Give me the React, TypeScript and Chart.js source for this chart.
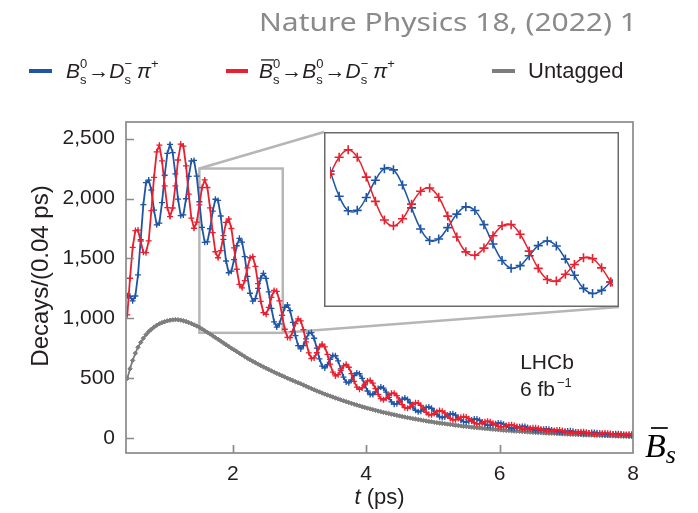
import React, { useEffect, useRef } from "react";
import { Chart, registerables } from "chart.js";

Chart.register(...registerables);

// ---------- data (decay-time bins of 0.04 ps, first bin centre 0.42 ps) ----------
const T_START = 0.42;
const BIN = 0.04;

const BLUE_VALUES = [
  1190, 1185, 1147, 1187, 1363, 1656, 1949, 2132, 2154, 2071,
  1903, 1781, 1795, 1966, 2194, 2376, 2451, 2383, 2206, 1995,
  1858, 1863, 1998, 2184, 2313, 2318, 2187, 1973, 1759, 1635,
  1638, 1748, 1895, 1994, 1984, 1854, 1659, 1479, 1381, 1394,
  1491, 1606, 1668, 1637, 1516, 1351, 1210, 1144, 1166, 1250,
  1337, 1376, 1334, 1222, 1084, 972, 928, 955, 1026, 1092,
  1112, 1066, 968, 856, 773, 746, 774, 830, 877, 882,
  835, 752, 663, 602, 587, 614, 659, 692, 689, 647,
  579, 511, 469, 463, 488, 524, 546, 539, 501, 446,
  395, 366, 366, 388, 415, 429, 419, 386, 342, 304,
  285, 288, 307, 327, 336, 325, 297, 262, 234, 222,
  227, 243, 258, 262, 251, 228, 201, 180, 173, 179,
  192, 204, 205, 194, 175, 154, 140, 136, 143, 153,
  161, 161, 151, 135, 119, 109, 108, 114, 122, 128,
  126, 118, 105, 92, 85, 85, 90, 97, 100, 99,
  91, 80, 72, 67, 68, 72, 77, 79, 77, 70,
  62, 56, 53, 53, 58, 61, 63, 59, 54, 47,
  43, 41, 42, 45, 48, 49, 47, 42, 37, 34,
  33, 34, 37, 39, 39, 36, 33, 29, 27, 26,
];

const RED_VALUES = [
  1030, 1335, 1593, 1733, 1737, 1644, 1551, 1548, 1646, 1899,
  2177, 2389, 2445, 2314, 2106, 1924, 1849, 1921, 2106, 2321,
  2454, 2437, 2272, 2036, 1837, 1752, 1803, 1947, 2091, 2155,
  2092, 1922, 1715, 1556, 1506, 1566, 1691, 1801, 1829, 1750,
  1589, 1410, 1284, 1255, 1316, 1421, 1506, 1516, 1434, 1290,
  1143, 1048, 1034, 1092, 1176, 1234, 1226, 1147, 1026, 910,
  842, 840, 892, 958, 997, 980, 906, 804, 713, 666,
  671, 714, 763, 786, 763, 700, 619, 552, 521, 531,
  567, 605, 617, 593, 540, 476, 428, 409, 421, 452,
  479, 484, 460, 416, 367, 331, 321, 334, 358, 376,
  377, 356, 319, 281, 256, 251, 263, 282, 296, 294,
  275, 245, 216, 198, 197, 208, 223, 232, 227, 211,
  188, 166, 155, 156, 165, 176, 182, 178, 163, 145,
  129, 121, 123, 131, 139, 143, 138, 126, 112, 100,
  96, 98, 105, 112, 113, 107, 98, 87, 78, 75,
  79, 84, 88, 89, 84, 76, 67, 61, 59, 62,
  66, 70, 69, 65, 58, 51, 47, 47, 50, 53,
  55, 55, 50, 45, 40, 37, 37, 40, 43, 44,
  43, 40, 35, 31, 29, 30, 31, 33, 35, 34,
];

const UNTAGGED_VALUES = [
  500, 580, 650, 710, 760, 800, 835, 865, 890, 910,
  928, 943, 955, 965, 973, 980, 985, 988, 990, 989,
  986, 981, 974, 966, 957, 947, 937, 926, 912, 898,
  884, 870, 855, 840, 826, 811, 796, 781, 767, 752,
  738, 724, 710, 696, 682, 668, 655, 643, 631, 619,
  607, 596, 585, 574, 563, 552, 542, 532, 522, 512,
  502, 492, 483, 473, 464, 455, 445, 435, 425, 415,
  405, 396, 387, 378, 369, 361, 353, 345, 337, 329,
  321, 313, 306, 299, 292, 285, 278, 271, 264, 258,
  252, 246, 240, 234, 228, 222, 217, 212, 207, 202,
  197, 192, 187, 182, 178, 173, 169, 165, 161, 157,
  153, 149, 145, 141, 138, 134, 131, 128, 125, 122,
  119, 116, 113, 110, 107, 104, 101, 99, 96, 94,
  91, 89, 87, 85, 82, 80, 78, 76, 74, 72,
  70, 68, 66, 65, 63, 61, 60, 58, 57, 55,
  54, 52, 51, 49, 48, 47, 45, 44, 43, 42,
  41, 40, 38, 37, 36, 35, 34, 33, 32, 31,
  30, 29, 28, 27, 27, 26, 25, 24, 23, 22,
  22, 21, 20, 19, 19, 18, 17, 17, 16, 15,
];

const X_TICKS = [2, 4, 6, 8];
const Y_TICKS = [0, 500, 1000, 1500, 2000, 2500];
const X_RANGE = [0.4, 8];
const Y_RANGE = [-122, 2638];
const ZOOM_T = [1.5, 2.75];
const ZOOM_Y = [880, 2250];
const INSET_Y = [865, 2255];

// ---------- styling / layout ----------
const FONT = "'Liberation Sans', Arial, Helvetica, sans-serif";
const SERIF = "'Liberation Serif', 'DejaVu Serif', serif";
const BLUE = "#1f55a5";
const RED = "#e8202f";
const GRAY = "#7d7d7d";
const FRAME = "#8a8a8a";
const ZOOMGRAY = "#b6b6b6";
const TEXT = "#231f20";
const W = 698;
const H = 513;
const INSET = { left: 324, top: 132, width: 295, height: 175 };

const times = BLUE_VALUES.map((_, i) => Math.round((T_START + BIN * i) * 100) / 100);
const toXY = (vals: number[]) => vals.map((y, i) => ({ x: times[i], y }));

const fmt = (v: number) => String(v).replace(/\B(?=(\d{3})+(?!\d))/g, ",");

type Seg = { t?: string; it?: boolean; stack?: [string, string]; sup?: string; bar?: boolean; gap?: number };

function drawRich(ctx: CanvasRenderingContext2D, x: number, y: number, segs: Seg[], size: number) {
  let cx = x;
  const small = Math.round(size * 0.62);
  for (const s of segs) {
    if (s.stack) {
      ctx.font = `${small}px ${FONT}`;
      const w1 = ctx.measureText(s.stack[0]).width;
      const w2 = ctx.measureText(s.stack[1]).width;
      ctx.fillText(s.stack[0], cx, y - size * 0.47);
      ctx.fillText(s.stack[1], cx, y + size * 0.3);
      cx += Math.max(w1, w2) + (s.gap ?? 1);
    } else if (s.sup) {
      ctx.font = `${small}px ${FONT}`;
      ctx.fillText(s.sup, cx, y - size * 0.47);
      cx += ctx.measureText(s.sup).width + (s.gap ?? 0);
    } else if (s.t) {
      ctx.font = `${s.it ? "italic " : ""}${size}px ${FONT}`;
      const w = ctx.measureText(s.t).width;
      ctx.fillText(s.t, cx, y);
      if (s.bar) {
        ctx.save();
        ctx.strokeStyle = TEXT;
        ctx.lineWidth = 1.3;
        ctx.beginPath();
        ctx.moveTo(cx + 2, y - size * 0.86);
        ctx.lineTo(cx + w + 1, y - size * 0.86);
        ctx.stroke();
        ctx.restore();
      }
      cx += w + (s.gap ?? 0);
    }
  }
  return cx;
}

function drawDecorations(chart: any) {
  const { ctx, chartArea: a, scales } = chart;
  const xs = scales.x;
  const ys = scales.y;
  ctx.save();
  // frame
  ctx.strokeStyle = FRAME;
  ctx.lineWidth = 1.7;
  ctx.strokeRect(a.left, a.top, a.right - a.left, a.bottom - a.top);
  // inward ticks
  ctx.beginPath();
  for (const v of X_TICKS) {
    if (v >= X_RANGE[1]) continue;
    const px = Math.round(xs.getPixelForValue(v)) + 0.5;
    ctx.moveTo(px, a.bottom);
    ctx.lineTo(px, a.bottom - 8);
  }
  for (const v of Y_TICKS) {
    const py = Math.round(ys.getPixelForValue(v)) + 0.5;
    ctx.moveTo(a.left, py);
    ctx.lineTo(a.left + 8, py);
  }
  ctx.stroke();

  // title
  ctx.fillStyle = "#8a8a8a";
  ctx.font = `26px 'Noto Sans', ${FONT}`;
  ctx.textBaseline = "alphabetic";
  const title = "Nature Physics 18, (2022) 1";
  const tw = ctx.measureText(title).width;
  ctx.save();
  ctx.translate(259, 31);
  ctx.scale(378 / tw, 1);
  ctx.fillText(title, 0, 0);
  ctx.restore();

  // legend
  const ly = 78;
  ctx.lineWidth = 4;
  ctx.strokeStyle = BLUE;
  ctx.beginPath(); ctx.moveTo(29, ly - 7); ctx.lineTo(52, ly - 7); ctx.stroke();
  ctx.strokeStyle = RED;
  ctx.beginPath(); ctx.moveTo(226, ly - 7); ctx.lineTo(248, ly - 7); ctx.stroke();
  ctx.strokeStyle = GRAY;
  ctx.beginPath(); ctx.moveTo(492, ly - 7); ctx.lineTo(515, ly - 7); ctx.stroke();
  ctx.fillStyle = TEXT;
  drawRich(ctx, 66, ly, [
    { t: "B", it: true },
    { stack: ["0", "s"] },
    { t: "\u2192" },
    { t: "D", it: true },
    { stack: ["\u2212", "s"], gap: 5 },
    { t: "\u03c0", it: true },
    { sup: "+" },
  ], 21);
  drawRich(ctx, 259, ly, [
    { t: "B", it: true, bar: true },
    { stack: ["0", "s"] },
    { t: "\u2192" },
    { t: "B", it: true },
    { stack: ["0", "s"] },
    { t: "\u2192" },
    { t: "D", it: true },
    { stack: ["\u2212", "s"], gap: 5 },
    { t: "\u03c0", it: true },
    { sup: "+" },
  ], 21);
  ctx.font = `22px ${FONT}`;
  ctx.fillText("Untagged", 528, ly);

  // axis titles
  ctx.fillStyle = TEXT;
  ctx.font = `24px ${FONT}`;
  ctx.save();
  ctx.translate(48, 276);
  ctx.rotate(-Math.PI / 2);
  ctx.textAlign = "center";
  ctx.fillText("Decays/(0.04 ps)", 0, 0);
  ctx.restore();
  ctx.font = `italic 22px ${FONT}`;
  const tW = ctx.measureText("t").width;
  ctx.font = `22px ${FONT}`;
  const rest = " (ps)";
  const rW = ctx.measureText(rest).width;
  const sx = (a.left + a.right) / 2 - (tW + rW) / 2;
  ctx.font = `italic 22px ${FONT}`;
  ctx.fillText("t", sx, 504);
  ctx.font = `22px ${FONT}`;
  ctx.fillText(rest, sx + tW, 504);

  // LHCb label
  ctx.font = `21px ${FONT}`;
  ctx.textAlign = "center";
  ctx.fillText("LHCb", 547, 369);
  ctx.textAlign = "left";
  ctx.fillText("6 fb", 520, 396);
  ctx.font = `13px ${FONT}`;
  ctx.fillText("\u22121", 557, 387);

  // B-bar_s symbol
  ctx.font = `italic 34px ${SERIF}`;
  ctx.fillStyle = "#000";
  ctx.fillText("B", 645, 457);
  const bw = ctx.measureText("B").width;
  ctx.strokeStyle = "#000";
  ctx.lineWidth = 1.7;
  ctx.beginPath();
  ctx.moveTo(651, 428);
  ctx.lineTo(645 + bw + 2, 428);
  ctx.stroke();
  ctx.font = `italic 26px ${SERIF}`;
  ctx.fillText("s", 645 + bw, 463);
  ctx.restore();
}

function drawZoomBox(chart: any) {
  const { ctx, scales } = chart;
  const xs = scales.x;
  const ys = scales.y;
  const x1 = xs.getPixelForValue(ZOOM_T[0]);
  const x2 = xs.getPixelForValue(ZOOM_T[1]);
  const y1 = ys.getPixelForValue(ZOOM_Y[1]);
  const y2 = ys.getPixelForValue(ZOOM_Y[0]);
  ctx.save();
  ctx.strokeStyle = ZOOMGRAY;
  ctx.lineWidth = 2.5;
  ctx.strokeRect(x1, y1, x2 - x1, y2 - y1);
  ctx.beginPath();
  ctx.moveTo(x1, y1);
  ctx.lineTo(INSET.left, INSET.top);
  ctx.moveTo(x2, y2);
  ctx.lineTo(INSET.left + INSET.width, INSET.top + INSET.height);
  ctx.stroke();
  ctx.restore();
}

export default function App() {
  const mainRef = useRef<HTMLCanvasElement | null>(null);
  const insetRef = useRef<HTMLCanvasElement | null>(null);

  useEffect(() => {
    if (!mainRef.current || !insetRef.current) return;
    const tickFont = { family: FONT, size: 21 };

    const main = new Chart(mainRef.current, {
      type: "line",
      data: {
        datasets: [
          {
            label: "red",
            data: toXY(RED_VALUES),
            borderColor: RED,
            backgroundColor: RED,
            borderWidth: 1.8,
            pointStyle: "cross",
            pointRadius: 3,
            pointBorderWidth: 1.3,
            tension: 0,
            order: 0,
          },
          {
            label: "blue",
            data: toXY(BLUE_VALUES),
            borderColor: BLUE,
            backgroundColor: BLUE,
            borderWidth: 1.8,
            pointStyle: "cross",
            pointRadius: 3,
            pointBorderWidth: 1.3,
            tension: 0,
            order: 1,
          },
          {
            label: "untagged",
            data: toXY(UNTAGGED_VALUES),
            borderColor: GRAY,
            backgroundColor: GRAY,
            borderWidth: 1.8,
            pointStyle: "rectRot",
            pointRadius: 2.2,
            pointBorderWidth: 1,
            tension: 0,
            order: 2,
          },
        ],
      },
      options: {
        animation: false,
        responsive: false,
        events: [],
        layout: { padding: { left: 0, right: W - 633, top: 122, bottom: 0 } },
        plugins: { legend: { display: false }, tooltip: { enabled: false } },
        scales: {
          x: {
            type: "linear",
            min: X_RANGE[0],
            max: X_RANGE[1],
            afterBuildTicks: (s: any) => { s.ticks = X_TICKS.map((v) => ({ value: v })); },
            afterFit: (s: any) => { s.height = H - 453; },
            grid: { display: false, drawTicks: false },
            border: { display: false },
            ticks: { font: tickFont, color: TEXT, padding: 9, maxRotation: 0, autoSkip: false, callback: (v: any) => String(v) },
          },
          y: {
            type: "linear",
            min: Y_RANGE[0],
            max: Y_RANGE[1],
            afterBuildTicks: (s: any) => { s.ticks = Y_TICKS.map((v) => ({ value: v })); },
            afterFit: (s: any) => { s.width = 126; },
            grid: { display: false, drawTicks: false },
            border: { display: false },
            ticks: { font: tickFont, color: TEXT, padding: 11, autoSkip: false, callback: (v: any) => fmt(Number(v)) },
          },
        },
      },
      plugins: [
        {
          id: "deco",
          beforeDraw: (c: any) => {
            c.ctx.save();
            c.ctx.fillStyle = "#fff";
            c.ctx.fillRect(0, 0, c.width, c.height);
            c.ctx.restore();
          },
          beforeDatasetsDraw: (c: any) => drawZoomBox(c),
          afterDraw: (c: any) => drawDecorations(c),
        },
      ],
    } as any);

    const inset = new Chart(insetRef.current, {
      type: "line",
      data: {
        datasets: [
          {
            data: toXY(RED_VALUES),
            borderColor: RED,
            backgroundColor: RED,
            borderWidth: 1.5,
            pointStyle: "cross",
            pointRadius: 4.5,
            pointBorderWidth: 1.6,
            tension: 0.4,
            order: 0,
          },
          {
            data: toXY(BLUE_VALUES),
            borderColor: BLUE,
            backgroundColor: BLUE,
            borderWidth: 1.5,
            pointStyle: "cross",
            pointRadius: 4.5,
            pointBorderWidth: 1.6,
            tension: 0.4,
            order: 1,
          },
        ],
      },
      options: {
        animation: false,
        responsive: false,
        events: [],
        layout: { padding: 0 },
        plugins: { legend: { display: false }, tooltip: { enabled: false } },
        scales: {
          x: { type: "linear", display: false, min: ZOOM_T[0], max: ZOOM_T[1] },
          y: { type: "linear", display: false, min: INSET_Y[0], max: INSET_Y[1] },
        },
      },
      plugins: [
        {
          id: "insetDeco",
          beforeDraw: (c: any) => {
            c.ctx.save();
            c.ctx.fillStyle = "#fff";
            c.ctx.fillRect(0, 0, c.width, c.height);
            c.ctx.restore();
          },
          afterDraw: (c: any) => {
            const ctx = c.ctx;
            ctx.save();
            ctx.strokeStyle = "#6a6a6a";
            ctx.lineWidth = 1.5;
            ctx.strokeRect(0.75, 0.75, c.width - 1.5, c.height - 1.5);
            ctx.restore();
          },
        },
      ],
    } as any);

    return () => {
      main.destroy();
      inset.destroy();
    };
  }, []);

  return (
    <div style={{ position: "fixed", left: 0, top: 0, width: W, height: H, background: "#fff" }}>
      <canvas ref={mainRef} width={W} height={H} style={{ position: "absolute", left: 0, top: 0, width: W, height: H }} />
      <canvas
        ref={insetRef}
        width={INSET.width}
        height={INSET.height}
        style={{ position: "absolute", left: INSET.left, top: INSET.top, width: INSET.width, height: INSET.height }}
      />
    </div>
  );
}
